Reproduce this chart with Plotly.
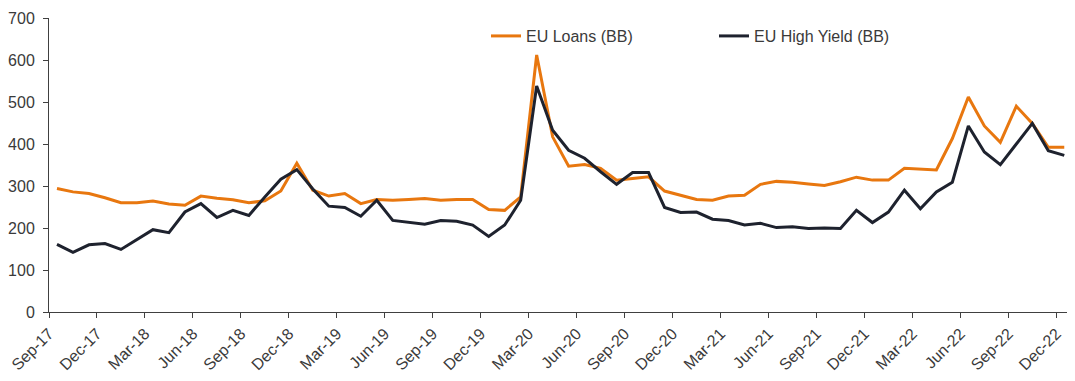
import plotly.graph_objects as go

months = ["Sep-17","Oct-17","Nov-17","Dec-17","Jan-18","Feb-18","Mar-18","Apr-18","May-18","Jun-18",
          "Jul-18","Aug-18","Sep-18","Oct-18","Nov-18","Dec-18","Jan-19","Feb-19","Mar-19","Apr-19",
          "May-19","Jun-19","Jul-19","Aug-19","Sep-19","Oct-19","Nov-19","Dec-19","Jan-20","Feb-20",
          "Mar-20","Apr-20","May-20","Jun-20","Jul-20","Aug-20","Sep-20","Oct-20","Nov-20","Dec-20",
          "Jan-21","Feb-21","Mar-21","Apr-21","May-21","Jun-21","Jul-21","Aug-21","Sep-21","Oct-21",
          "Nov-21","Dec-21","Jan-22","Feb-22","Mar-22","Apr-22","May-22","Jun-22","Jul-22","Aug-22",
          "Sep-22","Oct-22","Nov-22","Dec-22"]

eu_loans = [294, 286, 282, 272, 260, 260, 264, 257, 254, 276,
            271, 267, 260, 265, 288, 354, 290, 276, 282, 258,
            268, 266, 268, 270, 266, 268, 268, 244, 242, 274,
            612, 417, 347, 351, 342, 314, 318, 322, 288, 278,
            268, 266, 276, 278, 304, 311, 309, 305, 301, 310,
            321, 314, 314, 342, 340, 338, 413, 512, 443, 404,
            490, 449, 392, 392]

eu_hy = [161, 142, 160, 163, 149, 172, 196, 189, 238, 258,
         225, 242, 230, 274, 316, 339, 293, 252, 249, 228,
         266, 218, 213, 209, 218, 216, 207, 180, 207, 266,
         538, 433, 385, 366, 334, 304, 332, 332, 249, 237,
         238, 221, 218, 207, 211, 201, 203, 199, 200, 199,
         242, 213, 238, 290, 246, 286, 309, 443, 381, 351,
         400, 449, 384, 373]

tick_labels = ["Sep-17","Dec-17","Mar-18","Jun-18","Sep-18","Dec-18","Mar-19","Jun-19","Sep-19","Dec-19",
               "Mar-20","Jun-20","Sep-20","Dec-20","Mar-21","Jun-21","Sep-21","Dec-21","Mar-22","Jun-22",
               "Sep-22","Dec-22"]

y_ticks = [0, 100, 200, 300, 400, 500, 600, 700]

idx = list(range(len(months)))
tick_pos = [months.index(t) - 0.5 for t in tick_labels]

ORANGE = "#E8770F"
DARK = "#1E222E"
TEXT = "#3A3A3A"
FONT = "Liberation Sans, Arial, sans-serif"

fig = go.Figure()
fig.add_trace(go.Scatter(x=idx, y=eu_loans, mode="lines", name="EU Loans (BB)",
                         line=dict(color=ORANGE, width=3), legend="legend"))
fig.add_trace(go.Scatter(x=idx, y=eu_hy, mode="lines", name="EU High Yield (BB)",
                         line=dict(color=DARK, width=3), legend="legend2"))

leg_common = dict(orientation="h", yanchor="middle", xanchor="left",
                  font=dict(family=FONT, size=16, color=TEXT),
                  bgcolor="rgba(0,0,0,0)", itemwidth=30, traceorder="normal")

# page body has an 8px margin, so the figure is offset by (8, 8)
fig.update_layout(
    width=1067, height=373,
    margin=dict(l=41, r=4, t=10, b=69),
    paper_bgcolor="white", plot_bgcolor="white",
    font=dict(family=FONT, size=16, color=TEXT),
    showlegend=True,
    legend=dict(x=(486 - 49) / 1022, y=(311.7 - 36) / 293.7, **leg_common),
    legend2=dict(x=(714 - 49) / 1022, y=(311.7 - 36) / 293.7, **leg_common),
    xaxis=dict(range=[-0.5, 63.42], tickmode="array", tickvals=tick_pos, ticktext=tick_labels,
               tickangle=-45, showgrid=False, zeroline=False, showline=True, linecolor="#404040",
               linewidth=1, ticks="outside", ticklen=5, tickcolor="#404040", automargin=False,
               ticklabeloverflow="allow",
               tickfont=dict(family=FONT, size=16, color=TEXT)),
    yaxis=dict(range=[0, 700], tickmode="array", tickvals=y_ticks, showgrid=False, zeroline=False,
               showline=True, linecolor="#404040", linewidth=1, ticks="outside", ticklen=5,
               ticklabelstandoff=5, ticklabeloverflow="allow",
               automargin=False, tickcolor="#404040", tickfont=dict(family=FONT, size=16, color=TEXT)),
)

fig.write_html("out.html")
